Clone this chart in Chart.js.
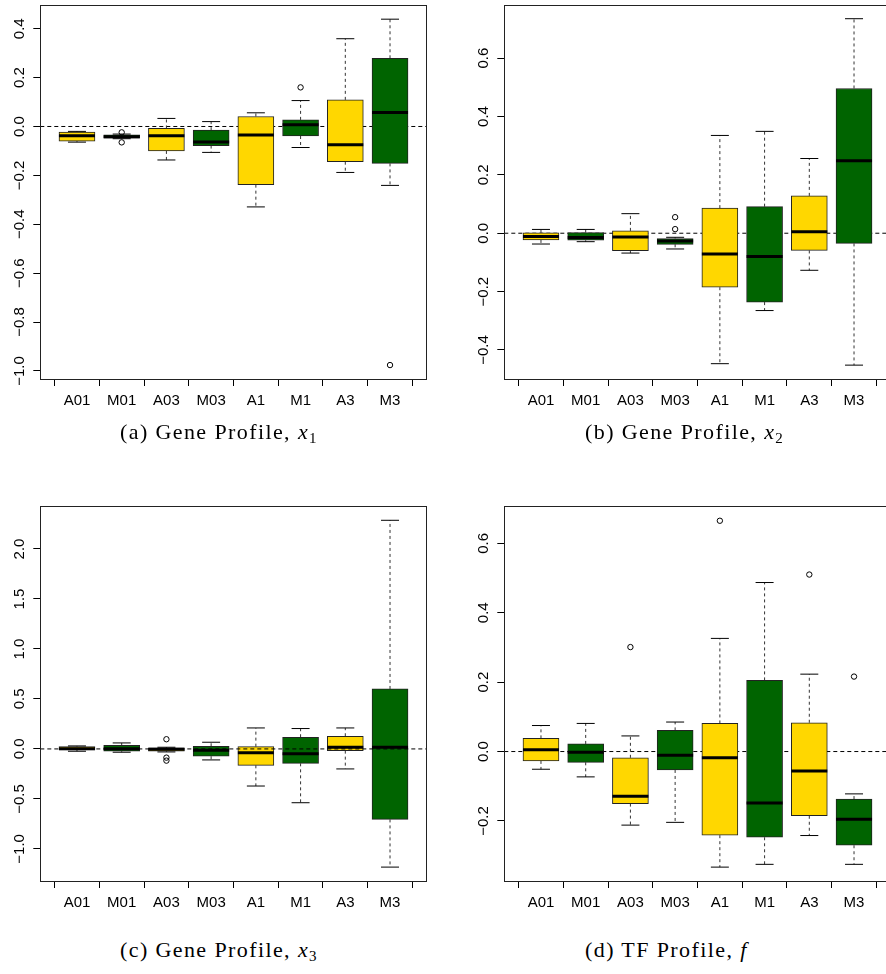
<!DOCTYPE html>
<html lang="en">
<head>
    <meta charset="UTF-8">
    <title>Boxplots - Gene and TF profiles</title>
    <script src="https://cdn.jsdelivr.net/npm/chart.js"></script>
    <style>
        html, body { margin: 0; padding: 0; background: #fff; overflow: hidden; }
        body { width: 886px; height: 974px; position: relative; }
        canvas { position: absolute; }
        .cap { position: absolute; font-family: "Liberation Serif", serif; font-size: 22px; letter-spacing: 1.4px; color: #000; white-space: nowrap; line-height: 26px; }
        .cap sub { font-size: 15px; vertical-align: -4px; line-height: 0; }
    </style>
</head>
<body>
    <canvas id="pa" width="440" height="425" style="left:0px;top:0px"></canvas>
    <canvas id="pb" width="430" height="425" style="left:464px;top:0px"></canvas>
    <canvas id="pc" width="440" height="427" style="left:0px;top:500px"></canvas>
    <canvas id="pd" width="430" height="427" style="left:464px;top:500px"></canvas>

    <div class="cap" style="left:120px;top:419px">(a) Gene Profile, <i>x</i><sub>1</sub></div>
    <div class="cap" style="left:585px;top:419px">(b) Gene Profile, <i>x</i><sub>2</sub></div>
    <div class="cap" style="left:120px;top:937px">(c) Gene Profile, <i>x</i><sub>3</sub></div>
    <div class="cap" style="left:585px;top:937px">(d) TF Profile, <i>f</i></div>

    <script>
    const categories = ['A01', 'M01', 'A03', 'M03', 'A1', 'M1', 'A3', 'M3'];

    // (a) gene profile x1
    const aLow  = [-0.064, -0.050, -0.137, -0.106, -0.329, -0.086, -0.188, -0.241];
    const aQ1   = [-0.060, -0.048, -0.100, -0.078, -0.238, -0.039, -0.144, -0.151];
    const aMed  = [-0.038, -0.042, -0.038, -0.063, -0.035, 0.007, -0.075, 0.057];
    const aQ3   = [-0.023, -0.034, -0.008, -0.015, 0.041, 0.027, 0.109, 0.279];
    const aHigh = [-0.020, -0.031, 0.033, 0.020, 0.056, 0.106, 0.359, 0.439];
    const aOutCat = ['M01', 'M01', 'M1', 'M3'];
    const aOutVal = [-0.024, -0.065, 0.160, -0.976];
    const aTicks = [-1.0, -0.8, -0.6, -0.4, -0.2, 0.0, 0.2, 0.4];
    const aTickLabels = ['\u22121.0', '\u22120.8', '\u22120.6', '\u22120.4', '\u22120.2', '0.0', '0.2', '0.4'];

    // (b) gene profile x2
    const bLow  = [-0.037, -0.029, -0.068, -0.054, -0.447, -0.265, -0.127, -0.452];
    const bQ1   = [-0.023, -0.024, -0.060, -0.038, -0.185, -0.236, -0.059, -0.035];
    const bMed  = [-0.011, -0.015, -0.013, -0.027, -0.071, -0.080, 0.005, 0.248];
    const bQ3   = [0.001, 0.002, 0.008, -0.018, 0.086, 0.091, 0.128, 0.496];
    const bHigh = [0.013, 0.013, 0.067, -0.014, 0.335, 0.349, 0.256, 0.735];
    const bOutCat = ['M03', 'M03'];
    const bOutVal = [0.055, 0.014];
    const bTicks = [-0.4, -0.2, 0.0, 0.2, 0.4, 0.6];
    const bTickLabels = ['\u22120.4', '\u22120.2', '0.0', '0.2', '0.4', '0.6'];

    // (c) gene profile x3
    const cLow  = [-0.023, -0.033, -0.030, -0.110, -0.371, -0.538, -0.200, -1.182];
    const cQ1   = [-0.010, -0.023, -0.023, -0.073, -0.164, -0.144, -0.017, -0.705];
    const cMed  = [0.003, 0.003, -0.003, -0.013, -0.037, -0.047, 0.017, 0.017];
    const cQ3   = [0.023, 0.037, 0.010, 0.027, 0.023, 0.117, 0.127, 0.600];
    const cHigh = [0.030, 0.060, 0.017, 0.067, 0.210, 0.204, 0.210, 2.287];
    const cOutCat = ['A03', 'A03', 'A03'];
    const cOutVal = [0.097, -0.087, -0.117];
    const cTicks = [-1.0, -0.5, 0.0, 0.5, 1.0, 1.5, 2.0];
    const cTickLabels = ['\u22121.0', '\u22120.5', '0.0', '0.5', '1.0', '1.5', '2.0'];

    // (d) TF profile f
    const dLow  = [-0.051, -0.073, -0.212, -0.204, -0.333, -0.325, -0.242, -0.325];
    const dQ1   = [-0.027, -0.031, -0.150, -0.053, -0.241, -0.247, -0.185, -0.270];
    const dMed  = [0.005, -0.002, -0.129, -0.011, -0.018, -0.148, -0.056, -0.195];
    const dQ3   = [0.038, 0.022, -0.018, 0.061, 0.081, 0.205, 0.083, -0.137];
    const dHigh = [0.075, 0.081, 0.045, 0.085, 0.326, 0.487, 0.223, -0.122];
    const dOutCat = ['A03', 'A1', 'A3', 'M3'];
    const dOutVal = [0.301, 0.665, 0.510, 0.216];
    const dTicks = [-0.2, 0.0, 0.2, 0.4, 0.6];
    const dTickLabels = ['\u22120.2', '0.0', '0.2', '0.4', '0.6'];

    const boxColors = ['#FFD700', '#006400', '#FFD700', '#006400', '#FFD700', '#006400', '#FFD700', '#006400'];
    const xMin = 0.18, xMax = 8.82;

    const framePlugin = {
        id: 'frame',
        afterDraw(chart) {
            const a = chart.chartArea, ctx = chart.ctx;
            ctx.save();
            ctx.strokeStyle = '#222';
            ctx.lineWidth = 1;
            ctx.strokeRect(Math.round(a.left) + 0.5, Math.round(a.top) + 0.5,
                Math.round(a.right - a.left), Math.round(a.bottom - a.top));
            ctx.restore();
        }
    };

    // rotated y tick labels, read bottom to top
    function yLabelPlugin(tickLabels) {
        return {
            id: 'ylabels',
            afterDraw(chart) {
                const s = chart.scales.y, ctx = chart.ctx;
                ctx.save();
                ctx.fillStyle = '#000';
                ctx.font = '15px "Liberation Sans"';
                ctx.textAlign = 'center';
                ctx.textBaseline = 'middle';
                s.ticks.forEach((t, i) => {
                    ctx.save();
                    ctx.translate(chart.chartArea.left - 20, s.getPixelForValue(t.value));
                    ctx.rotate(-Math.PI / 2);
                    ctx.fillText(tickLabels[i], 0, 0);
                    ctx.restore();
                });
                ctx.restore();
            }
        };
    }

    function makePanel(id, low, q1, med, q3, high, outCat, outVal, yMin, yMax, ticks, tickLabels, zeroOnTop, pad) {
        const pos = i => i + 1;
        const whiskers = [];
        const caps = [];
        categories.forEach((c, i) => {
            whiskers.push({x: pos(i), y: q3[i]}, {x: pos(i), y: high[i]}, {x: pos(i), y: null});
            whiskers.push({x: pos(i), y: q1[i]}, {x: pos(i), y: low[i]}, {x: pos(i), y: null});
            caps.push({x: pos(i), y: high[i]}, {x: pos(i), y: low[i]});
        });

        new Chart(document.getElementById(id), {
            type: 'bar',
            data: {
                datasets: [
                    {
                        type: 'scatter',
                        data: outCat.map((c, i) => ({x: categories.indexOf(c) + 1, y: outVal[i]})),
                        pointStyle: 'circle', pointRadius: 2.7, pointBorderWidth: 1,
                        pointBorderColor: '#000', pointBackgroundColor: 'rgba(0,0,0,0)',
                        order: 1
                    },
                    {
                        type: 'scatter',
                        data: categories.map((c, i) => ({x: pos(i), y: med[i]})),
                        pointStyle: 'line', pointRadius: 18, pointBorderWidth: 3,
                        pointBorderColor: '#000', order: 3
                    },
                    {
                        type: 'scatter',
                        data: caps,
                        pointStyle: 'line', pointRadius: 9, pointBorderWidth: 1,
                        pointBorderColor: '#000', order: 3
                    },
                    {
                        type: 'bar',
                        data: categories.map((c, i) => ({x: pos(i), y: [q1[i], q3[i]]})),
                        backgroundColor: boxColors,
                        borderColor: '#222',
                        borderWidth: 1,
                        borderSkipped: false,
                        barThickness: 36,
                        order: 5
                    },
                    {
                        type: 'line',
                        data: [{x: xMin, y: 0}, {x: xMax, y: 0}],
                        borderColor: '#000', borderWidth: 1, borderDash: [4, 3],
                        pointRadius: 0, order: zeroOnTop ? 2 : 10
                    },
                    {
                        type: 'line',
                        data: whiskers,
                        borderColor: '#333', borderWidth: 1, borderDash: [3, 3],
                        pointRadius: 0, spanGaps: false, order: 9
                    }
                ]
            },
            options: {
                responsive: false,
                animation: false,
                layout: { padding: pad, autoPadding: false },
                plugins: { legend: { display: false }, tooltip: { enabled: false } },
                events: [],
                scales: {
                    x: {
                        type: 'linear', min: xMin, max: xMax, offset: false,
                        afterBuildTicks: s => { s.ticks = categories.map((c, i) => ({value: i + 1})); },
                        afterFit: s => {
                            s.height = 46;
                            s.paddingLeft = 0; s.paddingRight = 0;
                        },
                        ticks: {
                            autoSkip: false, maxRotation: 0, padding: 6, color: '#000',
                            font: { family: 'Liberation Sans', size: 15 },
                            callback: (v, i) => categories[i]
                        },
                        grid: { drawOnChartArea: false, tickLength: 7, color: '#000' },
                        border: { display: false }
                    },
                    y: {
                        type: 'linear', min: yMin, max: yMax,
                        afterBuildTicks: s => { s.ticks = ticks.map(v => ({value: v})); },
                        afterFit: s => {
                            s.width = 40.3;
                            s.paddingTop = 0; s.paddingBottom = 0;
                        },
                        ticks: { display: false, autoSkip: false },
                        grid: { drawOnChartArea: false, tickLength: 7, color: '#000' },
                        border: { display: false }
                    }
                }
            },
            plugins: [framePlugin, yLabelPlugin(tickLabels)]
        });
    }

    makePanel('pa', aLow, aQ1, aMed, aQ3, aHigh, aOutCat, aOutVal, -1.033, 0.497, aTicks, aTickLabels, false,
        {left: 0, top: 5, right: 13.3, bottom: 0});
    makePanel('pb', bLow, bQ1, bMed, bQ3, bHigh, bOutCat, bOutVal, -0.4995, 0.783, bTicks, bTickLabels, false,
        {left: 0, top: 4.7, right: 3.3, bottom: 0});
    makePanel('pc', cLow, cQ1, cMed, cQ3, cHigh, cOutCat, cOutVal, -1.321, 2.43, cTicks, cTickLabels, true,
        {left: 0, top: 6, right: 13.3, bottom: 0});
    makePanel('pd', dLow, dQ1, dMed, dQ3, dHigh, dOutCat, dOutVal, -0.373, 0.7075, dTicks, dTickLabels, false,
        {left: 0, top: 6, right: 3.3, bottom: 0});
    </script>
</body>
</html>
